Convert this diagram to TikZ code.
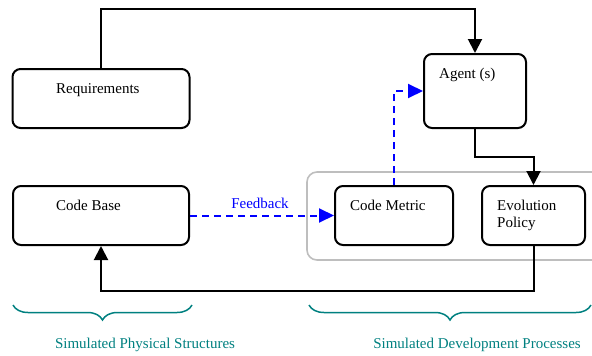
\documentclass[tikz,border=0pt]{standalone}
\usepackage{fontspec}
\setmainfont{Liberation Serif}
\usetikzlibrary{arrows.meta,decorations.pathreplacing,calc}
\definecolor{braceteal}{RGB}{0,128,128}
\definecolor{framegray}{RGB}{190,190,190}
\begin{document}
\begin{tikzpicture}[x=1pt,y=-1pt,
  font=\fontsize{15}{17}\selectfont,
  block/.style={draw=black,line width=2pt,rounded corners=8pt,fill=white,inner sep=0pt},
  conn/.style={color=black,line width=2pt,-{Triangle[length=14pt,width=14pt]}},
  fb/.style={color=blue,line width=2pt,dash pattern=on 7pt off 5pt,-{Triangle[length=15pt,width=14pt]}},
  brc/.style={draw=braceteal,line width=1.5pt,decorate,decoration={brace,mirror,amplitude=15pt}},
  txt/.style={inner sep=0pt,anchor=base west}]
\useasboundingbox (0,0) rectangle (592,356);

% grey frame around the development processes
\begin{scope}
\clip (0,0) rectangle (592,356);
\draw[framegray,line width=1.6pt,rounded corners=10pt] (307,172) rectangle (620,260);
\end{scope}

% blocks
\node[block,minimum width=177pt,minimum height=59pt] (req) at (101,98.5) {};
\node[block,minimum width=176pt,minimum height=59pt] (cb) at (101,215.5) {};
\node[block,minimum width=102pt,minimum height=74pt] (agent) at (475,91) {};
\node[block,minimum width=118pt,minimum height=59pt] (cm) at (394,215.5) {};
\node[block,minimum width=103pt,minimum height=59pt] (evo) at (533.5,215.5) {};

% block captions
\node[txt] (reqt) at (56,93) {Requirements};
\node[txt] (cbt) at (56,210) {Code Base};
\node[txt] (agentt) at (439,78) {Agent (s)};
\node[txt] (cmt) at (350,210) {Code Metric};
\node[txt] (evot1) at (497,210) {Evolution};
\node[txt] (evot2) at (497,227) {Policy};

% connectors
\draw[conn] (req.north) -- ++(0,-59) -| (agent.north);
\draw[conn] (agent.south) -- ++(0,28) -| (evo.north);
\draw[conn] (evo.south) -- ++(0,45) -| (cb.south);
\draw[fb] (cb.east) -- (cm.west);
\node[text=blue,inner sep=0pt] (fbt) at (260,203) {Feedback};
\draw[fb] (cm.north) |- (agent.west);

% braces and their captions
\coordinate (b1a) at (13,305);
\coordinate (b1b) at (192,305);
\coordinate (b2a) at (309,305);
\coordinate (b2b) at (591,305);
\draw[brc] (b1a) -- (b1b);
\draw[brc] (b2a) -- (b2b);
\node[text=braceteal] (l1) at (145,345) {Simulated Physical Structures};
\node[text=braceteal] (l2) at (477,345) {Simulated Development Processes};
\end{tikzpicture}
\end{document}
